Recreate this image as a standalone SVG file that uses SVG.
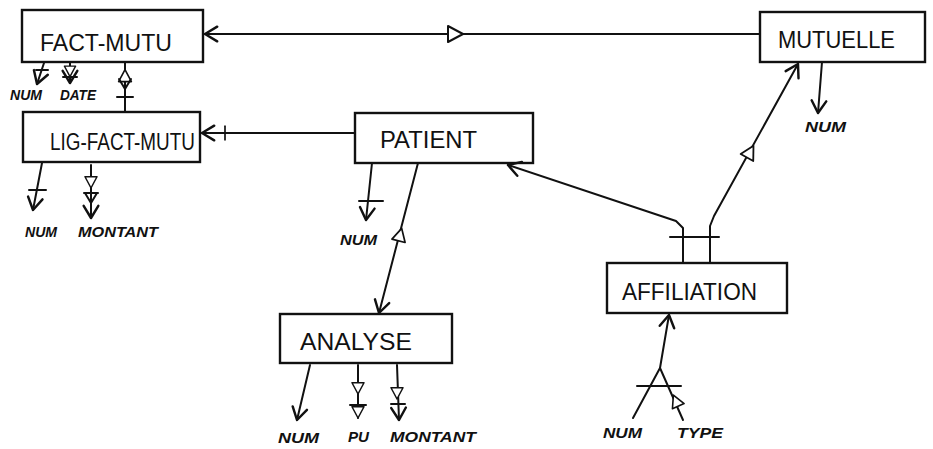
<svg xmlns="http://www.w3.org/2000/svg" width="933" height="449" viewBox="0 0 933 449">
  <style>
    .box { fill: #ffffff; stroke: #111; stroke-width: 2.4; }
    .lbl { font-family: "Liberation Sans", Arial, sans-serif; font-size: 23px; fill: #111; }
    .att { font-family: "Liberation Sans", Arial, sans-serif; font-size: 15px; font-weight: bold; font-style: italic; fill: #111; }
    .ln { fill: none; stroke: #111; stroke-width: 2; stroke-linejoin: round; stroke-linecap: round; }
    .deco { fill: #fff; stroke: #111; stroke-width: 2; stroke-linejoin: round; }
  </style>
  <defs>
    <marker id="vee" markerUnits="userSpaceOnUse" markerWidth="22" markerHeight="22" viewBox="-13 -9 15 18" refX="0" refY="0" orient="auto">
      <path d="M-10,-6 L0,0 L-10,6" fill="none" stroke="#111" stroke-width="2" stroke-linecap="round" stroke-linejoin="round"/>
    </marker>
    <!-- open triangle pointing along +x -->
    <path id="tri" d="M-7,-8 L8,0 L-7,8 Z"/>
    <!-- open chevron, apex at origin, pointing along +x -->
    <path id="chev" d="M-10,-6 L0,0 L-10,6"/>
    <!-- cross bar -->
    <path id="bar" d="M0,-8 L0,8"/>
  </defs>

  <!-- entities -->
  <g id="fact-mutu">
    <rect class="box" x="22" y="10" width="181" height="52"/>
    <text class="lbl" x="40" y="51" textLength="132" lengthAdjust="spacingAndGlyphs">FACT-MUTU</text>
  </g>
  <g id="mutuelle">
    <rect class="box" x="760" y="12" width="165" height="50"/>
    <text class="lbl" x="778" y="48" textLength="117" lengthAdjust="spacingAndGlyphs">MUTUELLE</text>
  </g>
  <g id="lig-fact-mutu">
    <rect class="box" x="23" y="112" width="177" height="50"/>
    <text class="lbl" x="50" y="150" textLength="145" lengthAdjust="spacingAndGlyphs">LIG-FACT-MUTU</text>
  </g>
  <g id="patient">
    <rect class="box" x="355" y="113" width="178" height="50"/>
    <text class="lbl" x="380" y="148" textLength="97" lengthAdjust="spacingAndGlyphs">PATIENT</text>
  </g>
  <g id="analyse">
    <rect class="box" x="280" y="314" width="172" height="49"/>
    <text class="lbl" x="300" y="350" textLength="112" lengthAdjust="spacingAndGlyphs">ANALYSE</text>
  </g>
  <g id="affiliation">
    <rect class="box" x="607" y="263" width="180" height="50"/>
    <text class="lbl" x="622" y="300" textLength="135" lengthAdjust="spacingAndGlyphs">AFFILIATION</text>
  </g>

  <!-- connectors and attribute arrows -->
  <g id="connectors">
    <!-- MUTUELLE to FACT-MUTU -->
    <path class="ln" d="M760,34 L205,34" marker-end="url(#vee)"/>
    <use href="#tri" class="deco" transform="translate(455,34)"/>

    <!-- FACT-MUTU to LIG-FACT-MUTU -->
    <path class="ln" d="M125,62 L125,112"/>
    <use href="#tri" class="deco" transform="translate(125,76) rotate(-90) scale(0.8)"/>
    <use href="#chev" class="ln" transform="translate(125,89) rotate(90)"/>
    <use href="#bar" class="ln" transform="translate(125,97) rotate(90)"/>

    <!-- PATIENT to LIG-FACT-MUTU -->
    <path class="ln" d="M355,133 L202,133" marker-end="url(#vee)"/>
    <use href="#bar" class="ln" transform="translate(225,133) scale(0.85)"/>

    <!-- PATIENT to ANALYSE -->
    <path class="ln" d="M418,163 L379,313" marker-end="url(#vee)"/>
    <use href="#tri" class="deco" transform="translate(400,235) rotate(-75.5) scale(0.85)"/>

    <!-- AFFILIATION to PATIENT -->
    <path class="ln" d="M683,263 L683,228 L676,221 L508,165" marker-end="url(#vee)"/>
    <!-- AFFILIATION to MUTUELLE -->
    <path class="ln" d="M710,263 L710,226 L714,216 L798,64" marker-end="url(#vee)"/>
    <use href="#tri" class="deco" transform="translate(750,152) rotate(-61) scale(0.9)"/>
    <path class="ln" d="M670,237 L719,237"/>

    <!-- FACT-MUTU attributes -->
    <path class="ln" d="M44,63 L37,84" marker-end="url(#vee)"/>
    <path class="ln" d="M36,70 L48,70"/>
    <path class="ln" d="M70,63 L70,83" marker-end="url(#vee)"/>
    <use href="#tri" class="deco" transform="translate(70,71) rotate(90) scale(0.7)"/>
    <path class="ln" d="M63,77 L77,77"/>

    <!-- LIG-FACT-MUTU attributes -->
    <path class="ln" d="M42,163 L33,210" marker-end="url(#vee)"/>
    <path class="ln" d="M29,190 L46,190"/>
    <path class="ln" d="M91,165 L91,218" marker-end="url(#vee)"/>
    <use href="#tri" class="deco" transform="translate(91,182) rotate(90) scale(0.75)"/>
    <use href="#chev" class="ln" transform="translate(91,203) rotate(90)"/>
    <path class="ln" d="M84,193 L98,193"/>

    <!-- PATIENT attribute -->
    <path class="ln" d="M372,163 L366,220" marker-end="url(#vee)"/>
    <path class="ln" d="M359,201 L383,201"/>

    <!-- MUTUELLE attribute -->
    <path class="ln" d="M822,62 L818,113" marker-end="url(#vee)"/>

    <!-- ANALYSE attributes -->
    <path class="ln" d="M310,365 L297,420" marker-end="url(#vee)"/>
    <path class="ln" d="M358,365 L358,418"/>
    <use href="#tri" class="deco" transform="translate(358,388) rotate(90) scale(0.75)"/>
    <path class="ln" d="M350,405 L366,405"/>
    <use href="#tri" class="deco" transform="translate(358,412) rotate(90) scale(0.75)"/>
    <path class="ln" d="M397,365 L399,420" marker-end="url(#vee)"/>
    <use href="#tri" class="deco" transform="translate(397,393) rotate(90) scale(0.75)"/>
    <path class="ln" d="M391,404 L405,404"/>

    <!-- AFFILIATION attributes -->
    <path class="ln" d="M660,368 L669,315" marker-end="url(#vee)"/>
    <path class="ln" d="M633,418 L660,368 L683,420"/>
    <path class="ln" d="M637,386 L681,386"/>
    <use href="#tri" class="deco" transform="translate(676,401) rotate(-114) scale(0.8)"/>
  </g>

  <!-- attribute names -->
  <g id="attribute-labels">
    <text class="att" x="10" y="100" textLength="32" lengthAdjust="spacingAndGlyphs">NUM</text>
    <text class="att" x="60" y="100" textLength="36" lengthAdjust="spacingAndGlyphs">DATE</text>
    <text class="att" x="25" y="237" textLength="32" lengthAdjust="spacingAndGlyphs">NUM</text>
    <text class="att" x="78" y="237" textLength="80" lengthAdjust="spacingAndGlyphs">MONTANT</text>
    <text class="att" x="340" y="245" textLength="37" lengthAdjust="spacingAndGlyphs">NUM</text>
    <text class="att" x="805" y="132" textLength="41" lengthAdjust="spacingAndGlyphs">NUM</text>
    <text class="att" x="278" y="443" textLength="41" lengthAdjust="spacingAndGlyphs">NUM</text>
    <text class="att" x="348" y="442" textLength="21" lengthAdjust="spacingAndGlyphs">PU</text>
    <text class="att" x="390" y="442" textLength="86" lengthAdjust="spacingAndGlyphs">MONTANT</text>
    <text class="att" x="603" y="438" textLength="39" lengthAdjust="spacingAndGlyphs">NUM</text>
    <text class="att" x="677" y="438" textLength="46" lengthAdjust="spacingAndGlyphs">TYPE</text>
  </g>
</svg>
